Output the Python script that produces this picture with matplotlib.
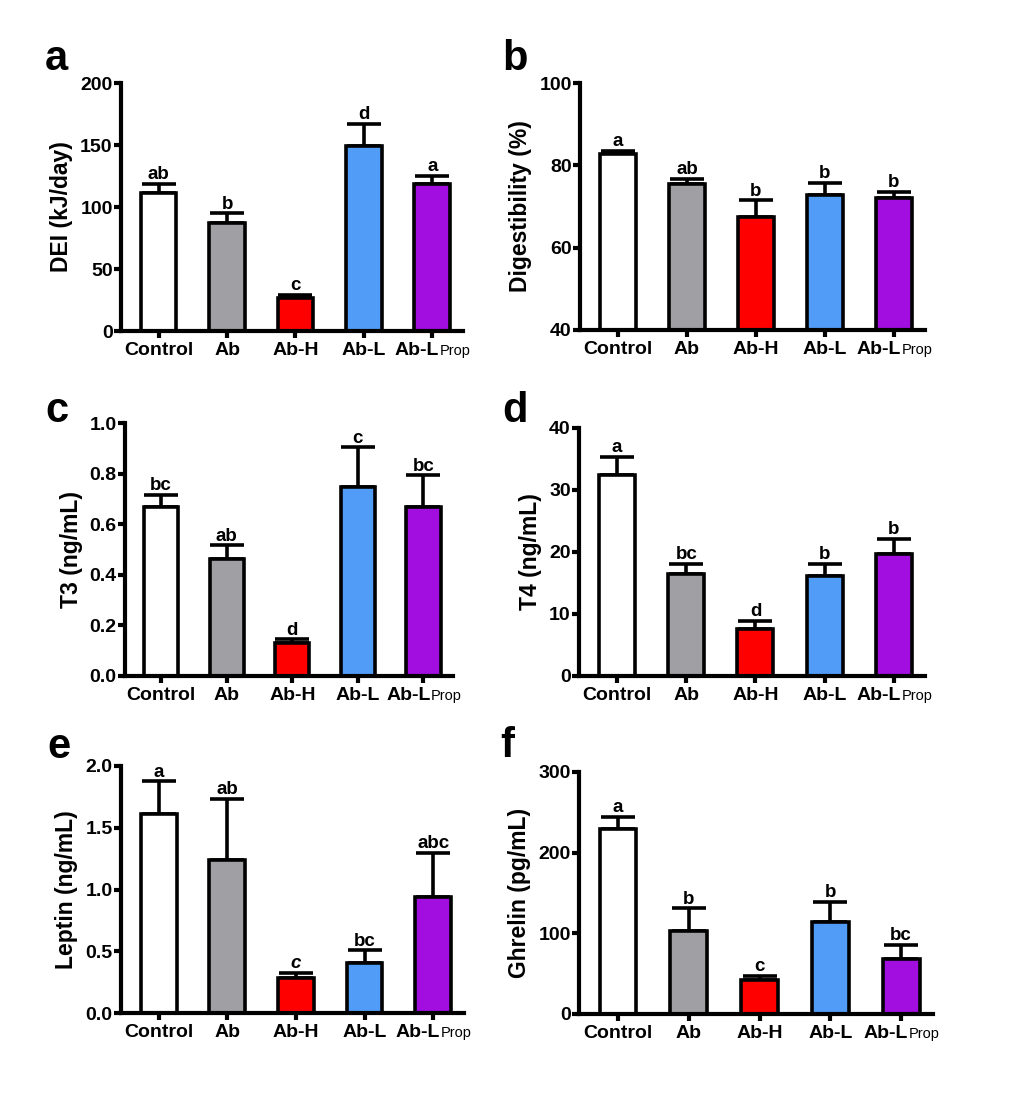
import matplotlib
matplotlib.use("Agg")
from matplotlib import pyplot as plt
from matplotlib.ticker import FormatStrFormatter

plt.rcParams['font.family'] = ['Liberation Sans', 'DejaVu Sans']
plt.rcParams['font.weight'] = 'bold'

groups = ["Control", "Ab", "Ab-H", "Ab-L", "Ab-L"]
last_sub = "Prop"
colors = ["#FFFFFF", "#A0A0A4", "#FF0000", "#519CF7", "#A20DE0"]

dei = [111, 87, 26.4, 149.5, 118.7]
dei_err = [7.7, 8, 2.6, 17.6, 6.3]
dei_sig = ["ab", "b", "c", "d", "a"]

dig = [82.8, 75.5, 67.4, 72.8, 72.0]
dig_err = [0.8, 1.2, 4.1, 2.9, 1.5]
dig_sig = ["a", "ab", "b", "b", "b"]

t3 = [0.668, 0.464, 0.132, 0.749, 0.668]
t3_err = [0.048, 0.052, 0.013, 0.155, 0.125]
t3_sig = ["bc", "ab", "d", "c", "bc"]

t4 = [32.4, 16.5, 7.6, 16.2, 19.6]
t4_err = [2.9, 1.6, 1.3, 1.9, 2.5]
t4_sig = ["a", "bc", "d", "b", "b"]

leptin = [1.612, 1.24, 0.280, 0.407, 0.938]
leptin_err = [0.264, 0.496, 0.043, 0.100, 0.356]
leptin_sig = ["a", "ab", "c", "bc", "abc"]

ghrelin = [229, 103, 41.8, 113.5, 68]
ghrelin_err = [15, 28, 5.7, 25.5, 17.7]
ghrelin_sig = ["a", "b", "c", "b", "bc"]

W, H = 1022, 1097
fig = plt.figure(figsize=(W / 100, H / 100), dpi=100)

panels = [
    # letter, letter pos px (x, baseline), box px (x0, x1, ytop, ybot), values, errs, sig, ylabel, ylim, yticks, fmt
    ("a", (45, 70), (121, 463, 83, 331), dei, dei_err, dei_sig, "DEI (kJ/day)", (0, 200), [0, 50, 100, 150, 200], "%d"),
    ("b", (502, 70), (580, 925, 83, 330), dig, dig_err, dig_sig, "Digestibility (%)", (40, 100), [40, 60, 80, 100], "%d"),
    ("c", (45, 422), (125, 453, 423, 676), t3, t3_err, t3_sig, "T3 (ng/mL)", (0, 1.0), [0, 0.2, 0.4, 0.6, 0.8, 1.0], "%.1f"),
    ("d", (502, 422), (579, 925, 428, 676), t4, t4_err, t4_sig, "T4 (ng/mL)", (0, 40), [0, 10, 20, 30, 40], "%d"),
    ("e", (47, 758), (121, 464, 766, 1013), leptin, leptin_err, leptin_sig, "Leptin (ng/mL)", (0, 2.0), [0, 0.5, 1.0, 1.5, 2.0], "%.1f"),
    ("f", (500, 757), (579, 933, 772, 1014), ghrelin, ghrelin_err, ghrelin_sig, "Ghrelin (pg/mL)", (0, 300), [0, 100, 200, 300], "%d"),
]

lw = 3.0
for letter, lpos, box, vals, errs, sig, ylab, ylim, yticks, fmt in panels:
    x0, x1, yt, yb = box
    ax = fig.add_axes([x0 / W, 1 - yb / H, (x1 - x0) / W, (yb - yt) / H])
    xs = list(range(len(vals)))
    ax.errorbar(xs, vals, yerr=[[0] * len(vals), errs], fmt='none', ecolor='black',
                elinewidth=2.6, capsize=12, capthick=2.6, zorder=1)
    ax.bar(xs, vals, width=0.52, color=colors, edgecolor='black', linewidth=2.6, zorder=2)
    for i, (v, e, s) in enumerate(zip(vals, errs, sig)):
        style = 'italic' if (letter == "e" and s == "c") else 'normal'
        ax.annotate(s, xy=(i, v + e), xytext=(0, 0.5), textcoords='offset points',
                    ha='center', va='bottom', fontsize=13.5, fontweight='bold', fontstyle=style)
    ax.set_xlim(-0.55, 4.45)
    ax.set_ylim(*ylim)
    ax.set_yticks(yticks)
    ax.yaxis.set_major_formatter(FormatStrFormatter(fmt))
    ax.set_xticks(xs)
    ax.set_xticklabels(groups[:-1] + [""], fontsize=14, fontweight='bold')
    ax.annotate(groups[-1], xy=(4, 0), xycoords=('data', 'axes fraction'),
                xytext=(5, -17.5), textcoords='offset points', ha='right', va='baseline',
                fontsize=14, fontweight='bold', annotation_clip=False)
    ax.annotate(last_sub, xy=(4, 0), xycoords=('data', 'axes fraction'),
                xytext=(5.5, -17.5), textcoords='offset points', ha='left', va='baseline',
                fontsize=10.5, fontweight='normal', annotation_clip=False)
    for sp in ["top", "right"]:
        ax.spines[sp].set_visible(False)
    for sp in ["left", "bottom"]:
        ax.spines[sp].set_linewidth(lw)
    ax.tick_params(axis='both', width=lw, length=5, direction='out')
    ax.tick_params(axis='y', labelsize=14, pad=1)
    ax.tick_params(axis='x', pad=3)
    for t in ax.get_yticklabels():
        t.set_fontweight('bold')
    ax.set_ylabel(ylab, fontsize=16.5, fontweight='bold', labelpad=5)
    fig.text(lpos[0] / W, 1 - lpos[1] / H, letter,
             fontsize=30, fontweight='bold', va='baseline', ha='left')

fig.savefig("out.png", dpi=100)
